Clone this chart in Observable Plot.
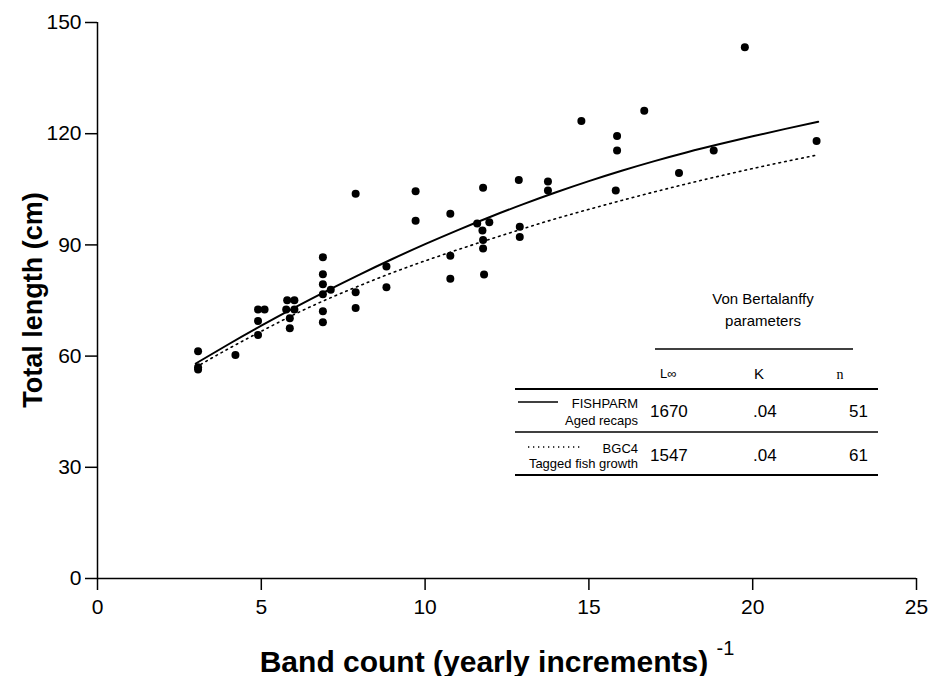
<!DOCTYPE html>
<html>
<head>
<meta charset="utf-8">
<script src="https://cdn.jsdelivr.net/npm/d3@7"></script>
<script src="https://cdn.jsdelivr.net/npm/@observablehq/plot@0.6"></script>
<style>
  html, body { margin: 0; padding: 0; background: #fff; }
  #chart svg { display: block; }
</style>
</head>
<body>
<div id="chart"></div>
<script>
// Observed points: band count (x) and total length in cm (y)
const bandCount = [3.07,3.07,3.07,4.21,4.9,5.1,4.9,4.9,5.79,6.01,5.76,6.01,5.87,5.87,
  6.88,6.88,6.88,6.88,7.12,6.88,6.88,7.88,7.88,7.88,8.82,8.82,9.71,9.71,10.77,10.77,10.77,
  11.77,11.59,11.96,11.75,11.77,11.77,11.8,12.86,12.89,12.89,13.75,13.75,14.77,15.86,15.86,
  15.82,16.69,17.75,18.81,19.76,21.95];
const totalLength = [61.3,57.0,56.4,60.3,72.6,72.6,69.5,65.7,75.1,75.1,72.6,72.6,70.2,67.5,
  86.7,82.1,79.4,76.7,77.9,72.1,69.1,103.8,77.2,73.0,84.2,78.6,104.5,96.5,98.4,87.1,80.9,
  105.4,95.8,96.1,93.9,91.3,89.0,82.0,107.5,94.9,92.1,107.1,104.7,123.4,119.4,115.5,
  104.7,126.2,109.4,115.5,143.3,118.0];

// Fitted growth curves
const curveAge = [3,4,5,6,7,8,9,10,11,12,13,14,15,16,17,18,19,20,21,22];
const fishparmLen = [58,63.2,68.2,73.0,77.6,82.0,86.2,90.2,94.0,97.6,101.0,104.2,107.2,110.0,112.6,115.0,117.2,119.3,121.3,123.2];
const bgc4Len = [57,62,66.7,71.2,75.3,79.0,82.5,85.7,88.7,91.6,94.4,97.1,99.6,102.0,104.3,106.5,108.6,110.6,112.5,114.3];

const xTicks = [0,5,10,15,20,25];
const yTicks = [0,30,60,90,120,150];

// Legend table
const paramHeaders = ["L\u221E","K","n"];
const seriesName = ["FISHPARM","BGC4"];
const seriesDesc = ["Aged recaps","Tagged fish growth"];
const lInf = ["1670","1547"];
const kVal = [".04",".04"];
const nVal = ["51","61"];

const points = bandCount.map((x,i) => ({x, y: totalLength[i]}));
const fish = curveAge.map((x,i) => ({x, y: fishparmLen[i]}));
const bgc = curveAge.map((x,i) => ({x, y: bgc4Len[i]}));

const W = 931, H = 676;
const font = "'Liberation Sans', Arial, Helvetica, sans-serif";

const plot = Plot.plot({
  width: W, height: H,
  marginLeft: 97, marginRight: 15, marginTop: 22, marginBottom: 98,
  style: {fontFamily: font, background: "#fff", color: "#000"},
  x: {domain: [0,25]},
  y: {domain: [0,150]},
  marks: [
    Plot.axisX({ticks: xTicks, tickSize: 12, tickPadding: 9, fontSize: 21, label: null, strokeWidth: 1.5}),
    Plot.axisY({ticks: yTicks, tickSize: 12, tickPadding: 4, fontSize: 21, label: null, strokeWidth: 1.5}),
    Plot.ruleX([0], {stroke: "#000", strokeWidth: 1.5}),
    Plot.ruleY([0], {stroke: "#000", strokeWidth: 1.5}),
    Plot.line(fish, {x: "x", y: "y", curve: "natural", stroke: "#000", strokeWidth: 2}),
    Plot.line(bgc, {x: "x", y: "y", curve: "natural", stroke: "#000", strokeWidth: 1.6, strokeDasharray: "1.6,4.2"}),
    Plot.dot(points, {x: "x", y: "y", r: 4, fill: "#000", stroke: "none"})
  ]
});
document.getElementById("chart").append(plot);

const svg = d3.select(plot);

// Axis titles
svg.append("text")
  .attr("transform", "translate(33,300) rotate(-90)")
  .attr("text-anchor", "middle").attr("dominant-baseline", "central")
  .attr("font-family", font).attr("font-weight", "bold").attr("font-size", 27)
  .attr("fill", "#000")
  .text("Total length (cm)");

const xt = svg.append("text")
  .attr("x", 497).attr("y", 661)
  .attr("text-anchor", "middle").attr("dominant-baseline", "central")
  .attr("font-family", font).attr("font-weight", "bold").attr("font-size", 30)
  .attr("fill", "#000");
xt.append("tspan").text("Band count (yearly increments) ");
xt.append("tspan").attr("dy", -13).attr("font-size", 20).attr("font-weight", "normal").text("-1");

// Legend table
const g = svg.append("g").attr("font-family", font).attr("fill", "#000");
const txt = (x, y, s, size, anchor, extra) => {
  const t = g.append("text").attr("x", x).attr("y", y)
    .attr("text-anchor", anchor || "start").attr("dominant-baseline", "central")
    .attr("font-size", size).text(s);
  if (extra) extra(t);
  return t;
};
const hline = (x1, x2, y, w) => g.append("line").attr("x1", x1).attr("x2", x2)
  .attr("y1", y).attr("y2", y).attr("stroke", "#000").attr("stroke-width", w);

txt(763, 298, "Von Bertalanffy", 15, "middle");
txt(763, 320, "parameters", 15, "middle");
hline(655, 853, 349, 1.5);
txt(660, 373, paramHeaders[0], 13, "start");
txt(759, 373, paramHeaders[1], 15, "middle");
txt(840, 374, paramHeaders[2], 14, "middle", t => t.attr("font-family", "'Liberation Serif', 'DejaVu Serif', serif"));
hline(515, 878, 389, 2);

const rowY = [[402, 403, 420, 411], [447, 448, 463, 455]];
seriesName.forEach((name, i) => {
  const [ly, ny, dy, vy] = rowY[i];
  const ln = g.append("line").attr("x1", i === 0 ? 518 : 528).attr("x2", i === 0 ? 558 : 583)
    .attr("y1", ly).attr("y2", ly).attr("stroke", "#000");
  if (i === 0) ln.attr("stroke-width", 1.5);
  else ln.attr("stroke-width", 1.3).attr("stroke-dasharray", "1.3,3.7");
  txt(638, ny, name, 13, "end");
  txt(638, dy, seriesDesc[i], 13, "end");
  txt(650, vy, lInf[i], 17, "start");
  txt(753, vy, kVal[i], 17, "start");
  txt(868, vy, nVal[i], 17, "end");
});
hline(515, 878, 432, 1.5);
hline(515, 878, 475, 2);
</script>
</body>
</html>
